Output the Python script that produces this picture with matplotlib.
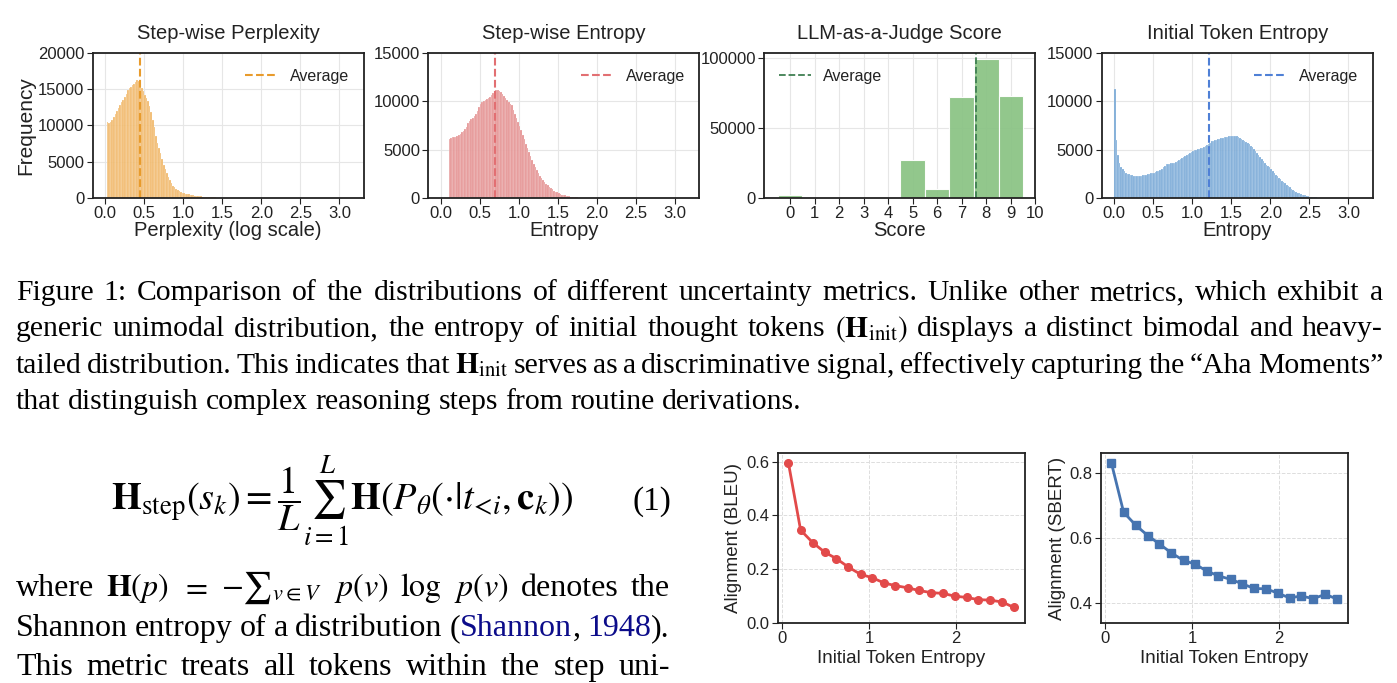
import numpy as np
import matplotlib
matplotlib.use('Agg')
import matplotlib.pyplot as plt

W, H = 1397, 683

# ---- histogram data (bar heights in thousands, fixed bin width) ----
bin_w = 0.02

perp_start = 0.02
perp_counts_k = [
    10.5, 10.3, 10.5, 10.8, 11.1, 11.6, 12.0, 12.4, 12.8, 13.2,
    13.5, 13.9, 14.3, 14.8, 15.2, 15.3, 15.5, 15.7, 16.0, 16.3,
    16.1, 15.8, 15.2, 14.7, 14.2, 13.8, 13.3, 12.7, 11.8, 10.8,
    9.8, 8.5, 7.6, 6.9, 6.2, 5.3, 4.6, 4.0, 3.4, 2.9,
    2.5, 2.1, 1.7, 1.45, 1.25, 1.1, 0.95, 0.85, 0.75, 0.65,
    0.6, 0.55, 0.5, 0.45, 0.4, 0.37, 0.34, 0.3, 0.27, 0.25,
    0.22, 0.2, 0.18, 0.16, 0.14, 0.12, 0.11, 0.1, 0.09, 0.08,
    0.06, 0.05, 0.04, 0.03, 0.02,
]
perp_avg = 0.44

ent_start = 0.10
ent_counts_k = [
    6.1, 6.2, 6.3, 6.25, 6.3, 6.35, 6.5, 6.65, 6.8, 6.95,
    7.1, 7.3, 7.7, 8.0, 8.15, 8.3, 8.45, 8.7, 9.0, 9.4,
    9.7, 9.9, 10.0, 10.1, 10.2, 10.35, 10.45, 10.6, 10.8, 11.0,
    11.2, 11.1, 11.0, 10.9, 10.75, 10.55, 10.3, 10.1, 9.9, 9.75,
    9.55, 9.1, 8.7, 8.25, 7.8, 7.4, 7.0, 6.5, 6.05, 5.6,
    5.15, 4.75, 4.35, 3.95, 3.55, 3.2, 2.85, 2.55, 2.3, 2.05,
    1.85, 1.65, 1.45, 1.3, 1.15, 1.0, 0.88, 0.76, 0.66, 0.57,
    0.49, 0.42, 0.36, 0.31, 0.26, 0.22, 0.19, 0.16, 0.13, 0.11,
    0.09, 0.07, 0.06, 0.05, 0.04, 0.03, 0.02, 0.02,
]
ent_avg = 0.70

judge_scores = [0, 1, 2, 3, 4, 5, 6, 7, 8, 9]
judge_counts = [2000, 0, 0, 0, 0, 27000, 6500, 72300, 99500, 73200]
judge_avg = 7.60

init_start = 0.0
init_counts_k = [
    11.3, 6.0, 4.4, 3.6, 3.2, 2.95, 2.75, 2.62, 2.52, 2.45,
    2.4, 2.35, 2.32, 2.3, 2.3, 2.28, 2.3, 2.3, 2.33, 2.35,
    2.38, 2.45, 2.5, 2.55, 2.58, 2.62, 2.68, 2.75, 2.82, 2.9,
    3.0, 3.15, 3.35, 3.5, 3.52, 3.55, 3.57, 3.6, 3.62, 3.7,
    3.8, 3.9, 4.0, 4.1, 4.2, 4.3, 4.4, 4.55, 4.65, 4.75,
    4.85, 4.95, 5.0, 5.05, 5.1, 5.15, 5.2, 5.3, 5.4, 5.5,
    5.55, 5.7, 5.85, 5.9, 5.95, 6.0, 6.05, 6.1, 6.15, 6.2,
    6.25, 6.25, 6.3, 6.35, 6.45, 6.4, 6.45, 6.4, 6.35, 6.3,
    6.2, 6.1, 6.0, 5.9, 5.8, 5.65, 5.55, 5.4, 5.25, 5.05,
    4.85, 4.65, 4.4, 4.2, 4.0, 3.8, 3.6, 3.45, 3.3, 3.15,
    3.0, 2.8, 2.6, 2.4, 2.25, 2.1, 1.95, 1.8, 1.65, 1.5,
    1.35, 1.22, 1.1, 0.98, 0.86, 0.75, 0.65, 0.56, 0.48, 0.41,
    0.35, 0.3, 0.26, 0.22, 0.18, 0.15, 0.12, 0.1, 0.08, 0.06,
    0.05, 0.04, 0.03, 0.02,
]
init_avg = 1.21

# ---- alignment vs initial token entropy ----
align_x = [0.07, 0.21, 0.35, 0.49, 0.62, 0.76, 0.90, 1.03, 1.17, 1.30,
           1.44, 1.57, 1.71, 1.85, 1.98, 2.12, 2.25, 2.39, 2.53, 2.66]
bleu = [0.595, 0.345, 0.298, 0.262, 0.239, 0.207, 0.180, 0.168, 0.148, 0.138,
        0.130, 0.120, 0.112, 0.109, 0.099, 0.094, 0.086, 0.084, 0.077, 0.057]
sbert = [0.830, 0.679, 0.639, 0.607, 0.582, 0.554, 0.531, 0.520, 0.498, 0.484,
         0.473, 0.460, 0.445, 0.444, 0.431, 0.416, 0.422, 0.414, 0.427, 0.413]

plt.rcParams['font.family'] = ['Liberation Sans', 'DejaVu Sans']
plt.rcParams['mathtext.fontset'] = 'stix'
plt.rcParams['axes.edgecolor'] = '#222222'
plt.rcParams['axes.linewidth'] = 1.3
plt.rcParams['xtick.major.size'] = 4
plt.rcParams['ytick.major.size'] = 4
plt.rcParams['xtick.color'] = '#222222'
plt.rcParams['ytick.color'] = '#222222'
plt.rcParams['text.color'] = '#222222'
plt.rcParams['axes.labelcolor'] = '#222222'

fig = plt.figure(figsize=(W / 100, H / 100), dpi=100)


def px_axes(x0, x1, y0, y1):
    return fig.add_axes([x0 / W, 1 - y1 / H, (x1 - x0) / W, (y1 - y0) / H])


def style_hist(ax, title, xlabel):
    ax.set_title(title, fontsize=14.5, pad=10)
    ax.set_xlabel(xlabel, fontsize=14.5, labelpad=0)
    ax.tick_params(labelsize=12, pad=2)
    ax.grid(True, color='#e6e6e6', lw=0.8)
    ax.set_axisbelow(True)


hist_specs = [
    ('Step-wise Perplexity', 'Perplexity (log scale)', perp_start, perp_counts_k,
     perp_avg, '#f0b35e', '#e89b2c', 20000, 92.7),
    ('Step-wise Entropy', 'Entropy', ent_start, ent_counts_k,
     ent_avg, '#e38a8a', '#e26f72', 15000, 428.3),
    ('Initial Token Entropy', 'Entropy', init_start, init_counts_k,
     init_avg, '#6fa3d4', '#4f80d6', 15000, 1101.7),
]

for title, xlabel, start, counts_k, avg, fc, lc, ytop, x0 in hist_specs:
    ax = px_axes(x0, x0 + 271, 52.7, 198)
    lefts = start + bin_w * np.arange(len(counts_k))
    ax.bar(lefts, np.array(counts_k) * 1000, width=bin_w, align='edge',
           color=fc, edgecolor='white', linewidth=0.15, alpha=0.9)
    ax.axvline(avg, color=lc, ls='--', lw=1.5, label='Average')
    ax.set_xlim(-0.16, 3.31)
    ax.set_ylim(0, ytop)
    ax.set_xticks([0.0, 0.5, 1.0, 1.5, 2.0, 2.5, 3.0])
    ax.set_yticks(np.arange(0, ytop + 1, 5000))
    style_hist(ax, title, xlabel)
    ax.legend(loc='upper right', frameon=False, fontsize=11.5,
              bbox_to_anchor=(1.0, 0.99))
    if x0 < 100:
        ax.set_ylabel('Frequency', fontsize=15, labelpad=2)

ax = px_axes(764.3, 1035.3, 52.7, 198)
ax.bar(judge_scores, judge_counts, width=1.0, color='#8cc486',
       edgecolor='white', linewidth=0.8, alpha=0.95)
ax.axvline(judge_avg, color='#3f7f52', ls='--', lw=1.3, label='Average')
ax.set_xlim(-1.05, 10)
ax.set_ylim(0, 104000)
ax.set_xticks(range(0, 11))
ax.set_yticks([0, 50000, 100000])
style_hist(ax, 'LLM-as-a-Judge Score', 'Score')
ax.legend(loc='upper left', frameon=False, fontsize=11.5,
          bbox_to_anchor=(0.0, 0.99))

# ---- line plots ----
for x0, vals, color, marker, ylabel, ylim, yticks in [
        (778, bleu, '#e24a4a', 'o', 'Alignment (BLEU)', (0.0, 0.631),
         [0.0, 0.2, 0.4, 0.6]),
        (1101, sbert, '#4674b0', 's', 'Alignment (SBERT)', (0.34, 0.86),
         [0.4, 0.6, 0.8])]:
    ax = px_axes(x0, x0 + 247, 453.3, 622.7)
    ax.plot(align_x, vals, color=color, marker=marker, ms=5.5, lw=2)
    ax.set_xlim(-0.05, 2.79)
    ax.set_ylim(*ylim)
    ax.set_xticks([0, 1, 2])
    ax.set_yticks(yticks)
    ax.set_yticklabels([f'{v:.1f}' for v in yticks])
    ax.grid(True, color='#dddddd', lw=0.7, ls='--')
    ax.set_axisbelow(True)
    ax.tick_params(labelsize=12, pad=2)
    ax.set_xlabel('Initial Token Entropy', fontsize=13.5, labelpad=3)
    ax.set_ylabel(ylabel, fontsize=13.5, labelpad=3)

# ---- page text ----
renderer = fig.canvas.get_renderer()
serif = ['Liberation Serif', 'DejaVu Serif']
blue = '#0c0c8a'


def put_line(words, x0, x1, y, size, justify=True):
    items = []
    for w in words:
        segs = w if isinstance(w, list) else [(w, 'black')]
        ts = [fig.text(0, 1 - y / H, s, color=c, fontsize=size, family=serif,
                       va='baseline', ha='left') for s, c in segs]
        ws = [t.get_window_extent(renderer).width for t in ts]
        items.append((ts, ws))
    total = sum(sum(ws) for _, ws in items)
    if justify:
        gap = (x1 - x0 - total) / (len(items) - 1)
    else:
        gap = 0.25 * size * 100 / 72
    x = x0
    for ts, ws in items:
        for t, w in zip(ts, ws):
            t.set_x(x / W)
            x += w
        x += gap


cap_size = 21.3
caption = [
    "Figure 1: Comparison of the distributions of different uncertainty metrics. "
    "Unlike other metrics, which exhibit a".split(),
    "generic unimodal distribution, the entropy of initial thought tokens".split()
    + [r"$(\mathbf{H}_{\mathrm{init}})$"]
    + "displays a distinct bimodal and heavy-".split(),
    "tailed distribution. This indicates that".split()
    + [r"$\mathbf{H}_{\mathrm{init}}$"]
    + "serves as a discriminative signal, effectively capturing the \u201cAha Moments\u201d".split(),
]
for i, words in enumerate(caption):
    put_line(words, 16, 1383, 300 + 36.3 * i, cap_size)
put_line("that distinguish complex reasoning steps from routine derivations.".split(),
         16, 0, 409, cap_size, justify=False)

fig.text(342 / W, 1 - 501 / H,
         r'$\mathbf{H}_{\mathrm{step}}(s_k) = \dfrac{1}{L}\sum_{i=1}^{L}'
         r'\mathbf{H}(P_\theta(\cdot|t_{\!<\!i},\mathbf{c}_k))$',
         fontsize=27.5, ha='center', va='center', color='black')
fig.text(652 / W, 1 - 510 / H, '(1)', fontsize=24, family=serif,
         ha='center', va='baseline', color='black')

par_size = 23
sum_part = "$-\u2211" + r"_{v\in V}$"
put_line(["where", r"$\mathbf{H}(p)$", "$=$", sum_part, "$p(v)$", r"$\log$",
          "$p(v)$", "denotes", "the"],
         16, 670, 596, par_size)
put_line(["Shannon", "entropy", "of", "a", "distribution",
          [("(", 'black'), ("Shannon", blue), (",", 'black')],
          [("1948", blue), (").", 'black')]],
         16, 670, 636, par_size)
put_line("This metric treats all tokens within the step uni-".split(),
         16, 670, 675, par_size)

fig.savefig('out.png', dpi=100)
